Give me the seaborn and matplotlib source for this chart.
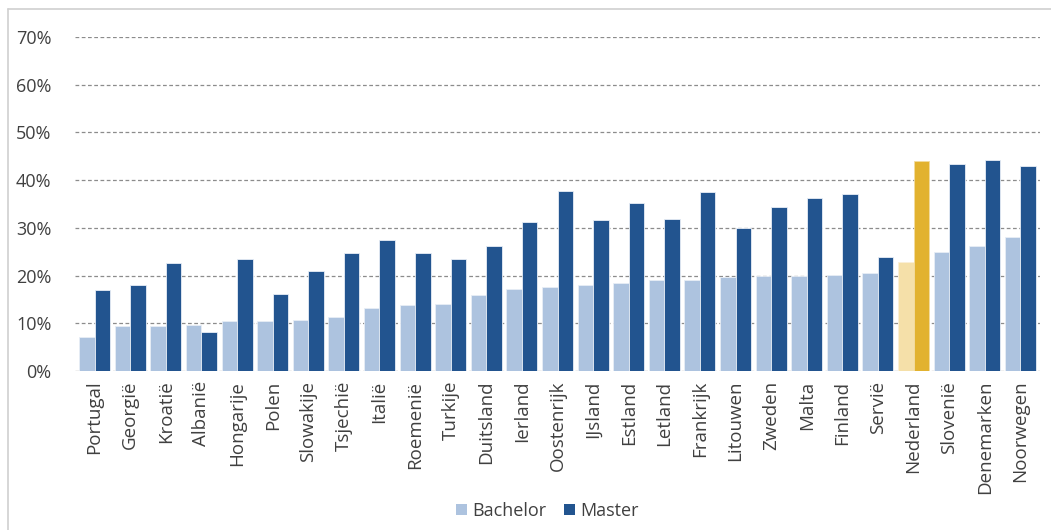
import matplotlib
matplotlib.use("Agg")
import matplotlib.pyplot as plt
import matplotlib.lines as mlines
import seaborn as sns
import pandas as pd
from matplotlib.patches import Patch

countries = ["Portugal", "Georgië", "Kroatië", "Albanië", "Hongarije", "Polen",
             "Slowakije", "Tsjechië", "Italië", "Roemenië", "Turkije", "Duitsland",
             "Ierland", "Oostenrijk", "IJsland", "Estland", "Letland", "Frankrijk",
             "Litouwen", "Zweden", "Malta", "Finland", "Servië", "Nederland",
             "Slovenië", "Denemarken", "Noorwegen"]
bachelor = [7.1, 9.4, 9.4, 9.6, 10.5, 10.5, 10.7, 11.3, 13.2, 13.8, 14.1, 15.9,
            17.1, 17.7, 18.0, 18.4, 19.1, 19.1, 19.7, 20.0, 20.0, 20.1, 20.6, 22.9,
            25.0, 26.3, 28.1]
master = [17.0, 18.0, 22.6, 8.2, 23.5, 16.1, 21.0, 24.7, 27.5, 24.7, 23.4, 26.1,
          31.2, 37.7, 31.6, 35.2, 31.8, 37.5, 30.0, 34.3, 36.2, 37.0, 23.8, 44.0,
          43.4, 44.2, 43.0]
highlight = "Nederland"

df = pd.DataFrame({
    "Land": countries * 2,
    "Niveau": ["Bachelor"] * len(countries) + ["Master"] * len(countries),
    "Aandeel": [v / 100 for v in bachelor + master],
})

sns.set_style("white")
plt.rcParams["font.family"] = ["Open Sans", "DejaVu Sans"]

c_bach, c_mast = "#adc3df", "#22548f"
c_bach_nl, c_mast_nl = "#f5e0a9", "#e2b22f"
txt = "#404040"

fig = plt.figure(figsize=(10.51, 5.30), dpi=100)
ax = fig.add_axes([75 / 1051, 1 - 371 / 530, (1040 - 75) / 1051, (371 - 37) / 530])

sns.barplot(data=df, x="Land", y="Aandeel", hue="Niveau", ax=ax,
            palette=[c_bach, c_mast], saturation=1, width=0.87, gap=0,
            edgecolor="#e8eef6", linewidth=0.6, legend=False, zorder=3)

# highlight the Netherlands
idx = countries.index(highlight)
n = len(countries)
ax.patches[idx].set_facecolor(c_bach_nl)
ax.patches[n + idx].set_facecolor(c_mast_nl)
ax.patches[idx].set_edgecolor("#fbf0d8")
ax.patches[n + idx].set_edgecolor("#f3dca0")

ax.set_ylim(0, 0.70)
ax.set_xlim(-0.55, n - 0.45)
ax.set_yticks([i / 10 for i in range(8)])
ax.set_yticklabels([f"{i * 10}%" for i in range(8)], fontsize=13, color=txt)
ax.yaxis.grid(True, linestyle=(0, (3, 2)), color="#8c8c8c", linewidth=0.9, zorder=0)
ax.set_axisbelow(True)
for s in ax.spines.values():
    s.set_visible(False)
ax.tick_params(axis="y", length=0, pad=17)
ax.tick_params(axis="x", length=0, pad=7)
plt.setp(ax.get_xticklabels(), rotation=90, fontsize=13.5, color=txt)
ax.set_xlabel("")
ax.set_ylabel("")

handles = [Patch(facecolor=c_bach, edgecolor="none"), Patch(facecolor=c_mast, edgecolor="none")]
fig.legend(handles, ["Bachelor", "Master"], loc="center", ncol=2,
           bbox_to_anchor=(0.521, 1 - 511 / 530), frameon=False, fontsize=13,
           handlelength=0.6, handleheight=0.6, handletextpad=0.3, columnspacing=1.0,
           labelcolor=txt)

# outer frame (top and left)
fig.add_artist(mlines.Line2D([8 / 1051, 8 / 1051], [0, 1 - 9 / 530],
                             color="#d0d0d0", linewidth=1.2))
fig.add_artist(mlines.Line2D([8 / 1051, 1], [1 - 9 / 530, 1 - 9 / 530],
                             color="#d0d0d0", linewidth=1.2))

fig.savefig("out.png", dpi=100, facecolor="white")
